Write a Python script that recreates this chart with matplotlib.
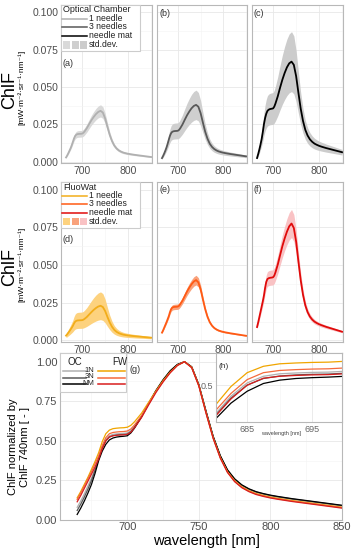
import matplotlib
matplotlib.use('Agg')
from matplotlib import pyplot as plt
from matplotlib.lines import Line2D
from matplotlib.patches import Rectangle
from matplotlib.ticker import MultipleLocator

plt.rcParams['font.family'] = ['Liberation Sans', 'DejaVu Sans']

# wavelength grid [nm]
wl = [665, 667.5, 670, 672.5, 675, 677.5, 680, 682.5, 685, 687.5, 690, 692.5, 695, 697.5, 700, 702.5, 705,
      710, 715, 720, 725, 730, 735, 740, 745, 750, 755, 760, 765, 770, 775, 780, 785, 790, 795, 800,
      805, 810, 815, 820, 825, 830, 835, 840, 845, 850]

# ChlF normalized by ChlF at 740 nm
n_oc_1n = [0.08, 0.12, 0.165, 0.215, 0.265, 0.325, 0.393, 0.46, 0.508, 0.532, 0.541, 0.544, 0.546, 0.547, 0.55, 0.565, 0.59,
           0.655, 0.735, 0.812, 0.878, 0.935, 0.978, 1.0, 0.966, 0.852, 0.684, 0.525, 0.402, 0.313, 0.256, 0.218, 0.193, 0.175, 0.163, 0.153,
           0.145, 0.138, 0.131, 0.125, 0.119, 0.113, 0.107, 0.101, 0.095, 0.089]
n_oc_3n = [0.06, 0.1, 0.145, 0.195, 0.25, 0.315, 0.387, 0.453, 0.5, 0.524, 0.533, 0.537, 0.539, 0.54, 0.543, 0.558, 0.585,
           0.653, 0.736, 0.815, 0.882, 0.94, 0.981, 1.0, 0.967, 0.853, 0.686, 0.527, 0.404, 0.315, 0.258, 0.22, 0.195, 0.177, 0.165, 0.155,
           0.147, 0.14, 0.133, 0.127, 0.121, 0.115, 0.109, 0.103, 0.097, 0.091]
n_oc_nm = [0.035, 0.075, 0.12, 0.17, 0.225, 0.295, 0.375, 0.435, 0.478, 0.506, 0.518, 0.524, 0.527, 0.529, 0.532, 0.55, 0.58,
           0.652, 0.738, 0.818, 0.886, 0.943, 0.983, 1.0, 0.968, 0.855, 0.688, 0.529, 0.406, 0.317, 0.26, 0.222, 0.197, 0.179, 0.167, 0.157,
           0.149, 0.142, 0.135, 0.129, 0.123, 0.117, 0.111, 0.105, 0.099, 0.093]
n_fw_1n = [0.14, 0.18, 0.225, 0.27, 0.32, 0.37, 0.425, 0.495, 0.545, 0.568, 0.577, 0.58, 0.582, 0.583, 0.586, 0.598, 0.62,
           0.675, 0.745, 0.815, 0.88, 0.935, 0.978, 1.0, 0.965, 0.85, 0.68, 0.52, 0.395, 0.305, 0.248, 0.21, 0.185, 0.167, 0.155, 0.145,
           0.137, 0.13, 0.123, 0.117, 0.111, 0.105, 0.099, 0.093, 0.087, 0.081]
n_fw_3n = [0.13, 0.17, 0.215, 0.26, 0.305, 0.355, 0.405, 0.47, 0.52, 0.545, 0.553, 0.556, 0.558, 0.559, 0.562, 0.575, 0.6,
           0.66, 0.735, 0.81, 0.875, 0.932, 0.977, 1.0, 0.963, 0.848, 0.678, 0.518, 0.393, 0.303, 0.245, 0.207, 0.182, 0.164, 0.152, 0.142,
           0.134, 0.127, 0.12, 0.114, 0.108, 0.102, 0.096, 0.09, 0.084, 0.078]
n_fw_nm = [0.115, 0.155, 0.2, 0.245, 0.29, 0.335, 0.385, 0.45, 0.5, 0.525, 0.532, 0.535, 0.537, 0.538, 0.541, 0.555, 0.582,
           0.648, 0.728, 0.805, 0.872, 0.93, 0.976, 1.0, 0.962, 0.846, 0.675, 0.515, 0.39, 0.3, 0.242, 0.204, 0.179, 0.161, 0.149, 0.139,
           0.131, 0.124, 0.117, 0.111, 0.105, 0.099, 0.093, 0.087, 0.081, 0.075]

# ChlF at 740 nm [mW m-2 sr-1 nm-1] and relative std.dev.
peak_oc = [0.034, 0.038, 0.067]
peak_fw = [0.023, 0.040, 0.0775]
cv_oc = [0.12, 0.26, 0.30]
cv_fw = [0.40, 0.08, 0.12]

labels = ['1 needle', '3 needles', 'needle mat']
short = ['1N', '3N', 'NM']
col_oc = ['#b0b0b0', '#595959', '#000000']
band_oc = ['#d9d9d9', '#cfcfcf', '#cccccc']
col_fw = ['#f2ad1a', '#ff5a14', '#e00a0a']
band_fw = ['#fdd27e', '#f9a27c', '#f9c2c4']
col_g_fw = ['#f0a500', '#f56a3c', '#d81e1e']

W, H = 356, 550
fig = plt.figure(figsize=(W / 100, H / 100), dpi=100)


def add_ax(x0, y0, x1, y1):
    return fig.add_axes([x0 / W, 1 - y1 / H, (x1 - x0) / W, (y1 - y0) / H])


def style(ax, fs=7.5):
    ax.set_facecolor('white')
    for s in ax.spines.values():
        s.set_color('#b8b8b8')
        s.set_linewidth(0.8)
    ax.grid(which='major', color='#e8e8e8', lw=0.6)
    ax.grid(which='minor', color='#f3f3f3', lw=0.4)
    ax.set_axisbelow(True)
    ax.tick_params(which='both', length=0, labelsize=fs, labelcolor='#4d4d4d', pad=2)


def fig_text(x, y, s, size, **kw):
    fig.text(x / W, 1 - y / H, s, fontsize=size, va='center', **kw)


def fig_line(x0, x1, y, color, lw=1.2):
    fig.add_artist(Line2D([x0 / W, x1 / W], [1 - y / H] * 2, transform=fig.transFigure, color=color, lw=lw))


def fig_box(x0, y0, x1, y1, **kw):
    fig.add_artist(Rectangle((x0 / W, 1 - y1 / H), (x1 - x0) / W, (y1 - y0) / H,
                             transform=fig.transFigure, **kw))


cols_px = [(61, 152), (157, 247), (252, 343)]
rows_px = [(5, 163), (182, 342)]
groups = [(n_oc_1n, n_oc_3n, n_oc_nm), (n_fw_1n, n_fw_3n, n_fw_nm)]
peaks = [peak_oc, peak_fw]
cvs = [cv_oc, cv_fw]
lcols = [col_oc, col_fw]
bcols = [band_oc, band_fw]
tags = [['(a)', '(b)', '(c)'], ['(d)', '(e)', '(f)']]

for r, (y0, y1) in enumerate(rows_px):
    for c, (x0, x1) in enumerate(cols_px):
        ax = add_ax(x0, y0, x1, y1)
        style(ax)
        mean = [v * peaks[r][c] for v in groups[r][c]]
        lo = [m * (1 - cvs[r][c]) for m in mean]
        hi = [m * (1 + cvs[r][c]) for m in mean]
        ax.fill_between(wl, lo, hi, color=bcols[r][c], lw=0)
        ax.plot(wl, mean, color=lcols[r][c], lw=1.3)
        ax.set_xlim(654, 852)
        ax.set_ylim(-0.001, 0.105)
        ax.xaxis.set_major_locator(MultipleLocator(100))
        ax.xaxis.set_minor_locator(MultipleLocator(50))
        ax.yaxis.set_major_locator(MultipleLocator(0.025))
        ax.yaxis.set_minor_locator(MultipleLocator(0.0125))
        ax.yaxis.set_major_formatter(plt.FormatStrFormatter('%.3f'))
        if c > 0:
            ax.tick_params(labelleft=False)
        ty = y0 + 8 if (c > 0) else y0 + 58
        fig_text(x0 + 2, ty, tags[r][c], 6.5, color='#333333')

# legends of the upper rows
for r, title in enumerate(['Optical Chamber', 'FluoWat']):
    off = rows_px[r][0] - 5
    fig_box(61, 5 + off, 140, 51 + off, facecolor='white', edgecolor='#cccccc', lw=0.8)
    fig_text(63, 10 + off, title, 6.5, color='#222222')
    for i in range(3):
        yy = 19 + 8.3 * i + off
        fig_line(62, 87, yy, lcols[r][i], lw=1.1)
        fig_text(89, yy - 0.5, labels[i], 6.2, color='#222222')
    for i in range(3):
        fig_box(63 + 8.5 * i, 41 + off, 70 + 8.5 * i, 48.5 + off, facecolor=bcols[r][i], lw=0)
    fig_text(89, 44.5 + off, 'std.dev.', 6.2, color='#222222')

units = '[mW\u00b7m\u207b\u00b2\u00b7sr\u207b\u00b9\u00b7nm\u207b\u00b9]'
for yc in (90, 267):
    fig_text(10, yc, 'ChlF', 13, rotation=90, ha='center')
    fig_text(22, yc - 3, units, 6, rotation=90, ha='center')

# normalized spectra
g = add_ax(60, 353, 342, 520)
style(g)
for i, n in enumerate([n_oc_1n, n_oc_3n, n_oc_nm]):
    g.plot(wl, n, color=col_oc[i], lw=0.9)
for i, n in enumerate([n_fw_1n, n_fw_3n, n_fw_nm]):
    g.plot(wl, n, color=col_g_fw[i], lw=0.9)
g.set_xlim(653, 850)
g.set_ylim(0, 1.055)
g.xaxis.set_major_locator(MultipleLocator(50))
g.xaxis.set_minor_locator(MultipleLocator(25))
g.yaxis.set_major_locator(MultipleLocator(0.25))
g.yaxis.set_minor_locator(MultipleLocator(0.125))
g.yaxis.set_major_formatter(plt.FormatStrFormatter('%.2f'))
g.tick_params(axis='x', labelsize=8, pad=1.5)
g.tick_params(axis='y', labelsize=8)
fig_text(130, 369, '(g)', 6.5, color='#333333')

fig_box(60, 353, 126, 392, facecolor='white', edgecolor='#cccccc', lw=0.8)
fig_text(68, 362, 'OC', 7, color='#222222')
fig_text(112, 362, 'FW', 7, color='#222222')
for i in range(3):
    yy = 371 + 6.5 * i
    fig_line(63, 86, yy, col_oc[i], lw=1.1)
    fig_text(94, yy - 0.5, short[i], 5.5, color='#222222', ha='right')
    fig_line(98, 125, yy, col_g_fw[i], lw=1.1)

# zoom inset
h = add_ax(216, 353, 342, 422)
style(h, fs=6.5)
for i, n in enumerate([n_oc_1n, n_oc_3n, n_oc_nm]):
    h.plot(wl, n, color=col_oc[i], lw=0.9)
for i, n in enumerate([n_fw_1n, n_fw_3n, n_fw_nm]):
    h.plot(wl, n, color=col_g_fw[i], lw=0.9)
h.set_xlim(680.2, 699.6)
h.set_ylim(0.367, 0.616)
h.set_xticks([685, 695])
h.xaxis.set_minor_locator(MultipleLocator(5))
h.set_yticks([0.5])
h.yaxis.set_major_formatter(plt.FormatStrFormatter('%.1f'))
h.tick_params(labelcolor='#666666')
fig_text(218, 367, '(h)', 6, color='#333333')
fig_text(281, 434, 'wavelength [nm]', 4, color='#444444', ha='center')

fig_text(19, 447, 'ChlF normalized by\nChlF 740nm [ - ]', 8, rotation=90, ha='center',
         multialignment='center')
fig_text(206, 541, 'wavelength [nm]', 10.5, ha='center')

fig.savefig('out.png', dpi=100)
